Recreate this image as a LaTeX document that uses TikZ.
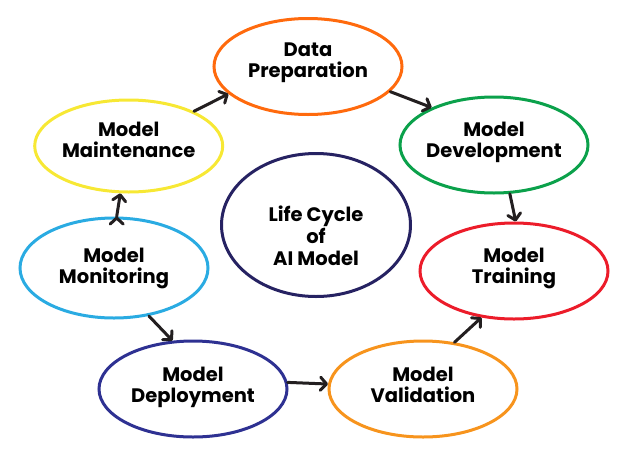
\documentclass[tikz,border=0pt]{standalone}
\usepackage{fontspec}
\setmainfont{Poppins}
\usepackage{tikz}
\usetikzlibrary{shapes.geometric,arrows.meta}
\definecolor{prepcol}{HTML}{FF6A0D}
\definecolor{maintcol}{HTML}{F7E834}
\definecolor{devcol}{HTML}{0BA14B}
\definecolor{monitcol}{HTML}{2AABE2}
\definecolor{lifecol}{HTML}{262262}
\definecolor{traincol}{HTML}{EC1C2A}
\definecolor{deploycol}{HTML}{2E3192}
\definecolor{validcol}{HTML}{F7941D}
\definecolor{arrowcol}{HTML}{231F20}

\begin{document}
\begin{tikzpicture}[x=1pt,y=-1pt,
    stage/.style={ellipse,draw,line width=3pt,inner sep=0pt,
        minimum width=188pt,minimum height=96pt},
    stagetxt/.style={align=center,inner sep=0pt,
        font=\fontsize{19.5}{21}\selectfont\bfseries},
    link/.style={->,line width=3pt,draw=arrowcol,line cap=round},
    >={Straight Barb[length=6pt,width=13pt,round]}]
    \useasboundingbox (0,0) rectangle (631,453);
    % the rings
    \node[stage,draw=prepcol] (prep) at (308,66.5) {};
    \node[stage,draw=maintcol,minimum height=92pt] (maint) at (128.7,146) {};
    \node[stage,draw=devcol] (dev) at (494,145) {};
    \node[stage,draw=monitcol,minimum height=100pt] (monit) at (114,268) {};
    \node[stage,draw=lifecol,minimum width=189pt,minimum height=143pt] (life) at (316,225) {};
    \node[stage,draw=traincol] (train) at (514,271) {};
    \node[stage,draw=deploycol] (deploy) at (193,389) {};
    \node[stage,draw=validcol] (valid) at (423,389) {};
    % the texts
    \node[stagetxt] (prep_t) at (308,63) {Data\\Preparation};
    \node[stagetxt] (maint_t) at (128.7,139.5) {Model\\Maintenance};
    \node[stagetxt] (dev_t) at (494,142.8) {Model\\Development};
    \node[stagetxt] (monit_t) at (114,268.3) {Model\\Monitoring};
    \node[stagetxt,font=\fontsize{19.5}{22}\selectfont\bfseries] (life_t) at (316,235.5) {Life Cycle\\of\\AI Model};
    \node[stagetxt] (train_t) at (514,268.5) {Model\\Training};
    \node[stagetxt] (deploy_t) at (193,387) {Model\\Deployment};
    \node[stagetxt] (valid_t) at (423,385) {Model\\Validation};
    \path[link]
    (maint.28) edge (prep.199)
    (prep.343) edge (dev.149)
    (dev.288) edge (train.88)
    (valid.56) edge (train.235)
    (deploy.4) edge (valid.177)
    (monit.306) edge (deploy.113)
    (monit.87) edge (maint.260);
\end{tikzpicture}
\end{document}
